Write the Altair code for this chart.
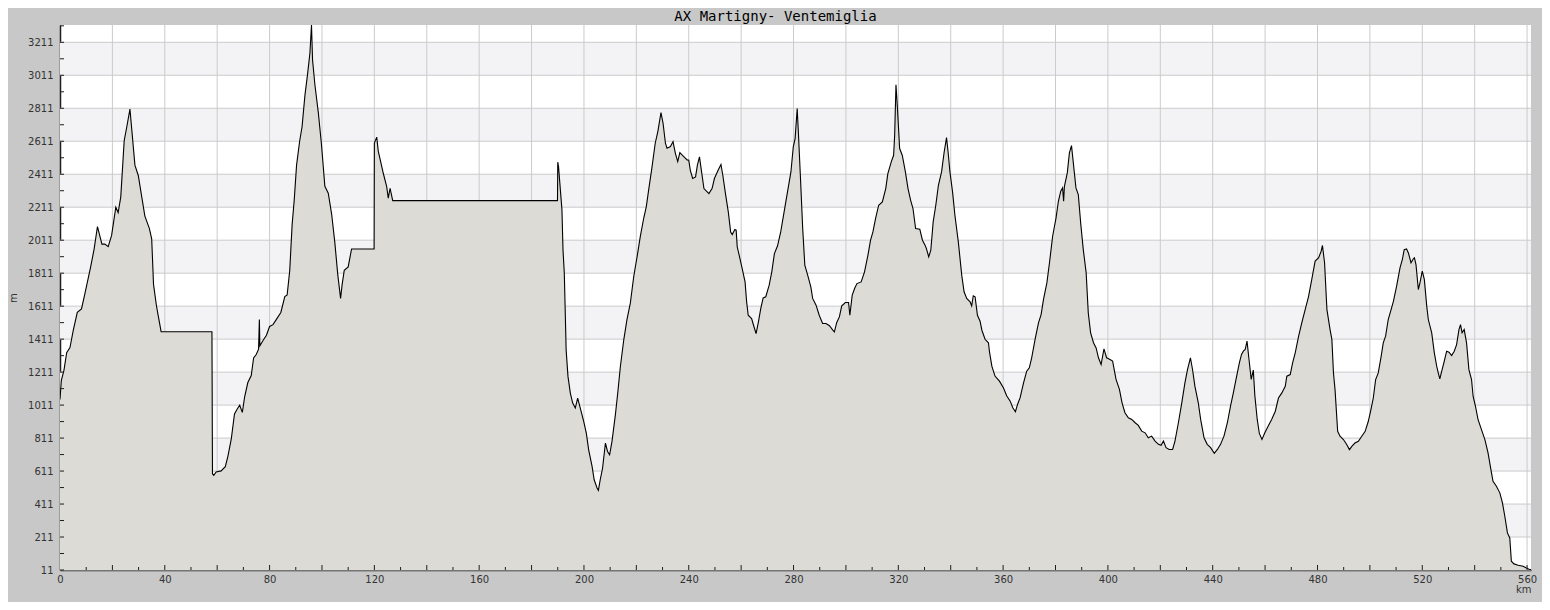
import altair as alt
import pandas as pd

# elevation profile (km, m)
KM = [
    0.0, 0.5, 1.5, 2.55, 3.8, 5.1, 6.6, 8.2, 9.4, 11.7, 13.0, 14.3, 16.0, 17.1, 18.4, 19.7,
    21.3, 22.2, 23.2, 24.5, 25.5, 26.7, 27.3, 28.6, 29.9, 31.2, 32.4, 34.1, 35.0, 35.7, 36.8,
    37.5, 38.6, 58.0, 58.2, 58.7, 59.6, 61.5, 63.1, 64.1, 65.4, 66.6, 67.7, 68.6, 69.6, 70.5,
    71.7, 73.0, 73.9, 74.9, 75.8, 76.1, 76.3, 77.5, 78.8, 80.0, 81.3, 82.6, 84.3, 85.8, 86.7,
    87.7, 88.6, 89.4, 90.3, 91.5, 92.4, 93.5, 94.5, 95.4, 96.0, 96.4, 97.3, 98.6, 99.8, 101.1,
    102.4, 103.7, 104.9, 106.0, 107.1, 107.7, 108.5, 110.0, 111.3, 119.9, 120.0, 120.9, 121.5,
    122.4, 123.4, 124.7, 125.3, 126.0, 127.0, 189.9, 190.0, 190.3, 191.0, 191.6, 192.0, 192.5,
    192.9, 193.2, 193.9, 194.8, 195.7, 196.7, 197.6, 198.6, 199.9, 200.9, 201.8, 203.1, 203.9,
    205.0, 205.5, 206.2, 207.1, 208.2, 209.0, 209.8, 210.7, 212.0, 212.9, 213.9, 215.2, 216.4,
    217.7, 219.0, 220.3, 221.5, 222.8, 223.8, 224.7, 226.0, 227.2, 228.2, 229.4, 230.2, 231.1,
    231.7, 233.0, 234.0, 234.9, 235.8, 236.6, 238.1, 239.4, 240.0, 240.6, 241.5, 242.6, 243.3,
    244.1, 244.9, 245.8, 247.7, 248.9, 249.8, 251.2, 252.3, 253.0, 254.1, 255.1, 256.0, 256.6,
    257.6, 258.1, 258.5, 259.4, 260.4, 261.5, 262.1, 262.7, 264.0, 264.9, 265.7, 266.6, 267.5,
    268.4, 269.4, 270.7, 271.7, 272.7, 273.9, 275.1, 276.4, 277.7, 279.0, 279.9, 280.6, 281.4,
    281.9, 282.6, 283.5, 284.3, 285.4, 286.6, 287.3, 288.6, 289.8, 291.1, 292.4, 293.7, 295.0,
    295.6, 296.5, 297.5, 298.4, 299.8, 301.0, 301.5, 302.4, 303.3, 304.2, 305.8, 307.1, 308.4,
    309.4, 310.3, 311.3, 312.5, 313.9, 315.2, 316.0, 317.3, 318.2, 318.6, 319.1, 319.6, 320.5,
    321.5, 322.7, 323.7, 324.7, 325.6, 326.6, 328.2, 329.2, 330.2, 330.7, 331.6, 332.4, 333.3,
    334.3, 335.3, 336.5, 337.5, 338.4, 339.0, 339.7, 340.7, 341.6, 342.9, 344.2, 345.1, 346.1,
    347.4, 348.0, 348.6, 349.3, 350.2, 351.2, 351.9, 353.1, 354.4, 354.8, 355.7, 356.9, 358.6,
    360.1, 361.4, 362.7, 363.7, 364.7, 365.5, 366.5, 367.8, 369.0, 370.0, 370.9, 372.2, 373.5,
    374.5, 375.4, 376.7, 377.7, 378.9, 380.2, 381.1, 382.0, 382.7, 383.1, 383.4, 384.5, 385.3,
    386.1, 386.8, 387.8, 388.7, 389.6, 390.6, 391.7, 392.5, 393.4, 394.5, 395.5, 396.4, 397.4,
    398.5, 399.5, 400.8, 401.8, 403.1, 404.4, 405.4, 406.5, 407.8, 409.1, 410.4, 411.6, 412.9,
    414.2, 415.4, 416.7, 418.0, 419.3, 420.3, 421.2, 422.2, 423.4, 424.7, 425.6, 426.9, 428.2,
    429.4, 430.4, 431.5, 432.3, 433.2, 434.5, 435.4, 436.7, 437.9, 439.2, 440.6, 441.8, 443.0,
    444.3, 445.6, 446.8, 447.9, 448.9, 450.2, 451.0, 451.7, 452.4, 453.1, 454.0, 454.7, 455.5,
    456.1, 457.0, 457.8, 458.8, 459.9, 461.2, 462.5, 463.9, 465.1, 466.4, 467.7, 468.3, 469.6,
    470.5, 471.5, 472.8, 474.0, 475.3, 476.6, 477.8, 479.1, 480.4, 481.4, 481.9, 482.7, 483.6,
    484.8, 485.5, 486.1, 486.7, 487.7, 488.6, 489.9, 491.2, 492.2, 493.1, 494.3, 495.6, 496.9,
    498.2, 499.4, 500.4, 501.3, 502.2, 503.2, 504.3, 505.1, 506.0, 507.0, 508.1, 509.0, 510.2,
    511.5, 512.4, 513.1, 514.0, 514.7, 515.7, 516.6, 517.0, 517.6, 518.5, 519.1, 520.0, 520.8,
    521.7, 522.3, 523.6, 524.6, 525.5, 526.1, 526.7, 527.4, 528.4, 529.3, 530.2, 531.2, 532.2,
    533.1, 534.0, 534.6, 535.2, 536.0, 536.9, 537.8, 538.8, 539.4, 540.3, 541.3, 542.6, 543.9,
    545.1, 546.2, 547.0, 548.3, 549.6, 550.6, 551.5, 552.5, 553.4, 554.0, 555.0, 556.6, 558.5,
    559.7, 560.8, 561.5,
]
ELEV = [
    1045, 1159, 1222, 1329, 1360, 1467, 1573, 1594, 1679, 1849, 1955, 2094, 1987, 1987, 1972, 2040,
    2211, 2179, 2274, 2614, 2699, 2806, 2699, 2466, 2402, 2274, 2157, 2083, 2019, 1743, 1615,
    1552, 1456, 1456, 595, 585, 606, 612, 638, 702, 808, 957, 989, 1010, 967, 1063,
    1148, 1190, 1297, 1318, 1350, 1530, 1371, 1403, 1435, 1488, 1499, 1531, 1573, 1669, 1679,
    1828, 2104, 2253, 2466, 2614, 2699, 2891, 3018, 3146, 3316, 3104, 2954, 2785, 2593, 2338,
    2296, 2168, 1998, 1807, 1658, 1743, 1828, 1849, 1958, 1958, 2600, 2636, 2550,
    2488, 2417, 2336, 2266, 2326, 2251, 2251, 2484, 2457, 2316, 2195, 1952, 1811,
    1548, 1346, 1185, 1084, 1023, 993, 1053, 993, 912, 841, 740, 639, 558,
    508, 494, 558, 628, 781, 730, 710, 791, 953, 1084, 1245, 1407, 1528,
    1629, 1791, 1912, 2033, 2144, 2215, 2316, 2457, 2599, 2670, 2785, 2720, 2599,
    2569, 2579, 2609, 2538, 2488, 2542, 2518, 2498, 2496, 2435, 2385, 2395, 2466,
    2516, 2425, 2324, 2294, 2324, 2385, 2435, 2470, 2405, 2284, 2183, 2061, 2045,
    2076, 2072, 1971, 1910, 1839, 1758, 1637, 1556, 1536, 1486, 1445, 1516, 1597,
    1661, 1668, 1738, 1819, 1930, 1977, 2061, 2183, 2304, 2425, 2577, 2627, 2809,
    2647, 2405, 2082, 1860, 1799, 1728, 1658, 1617, 1556, 1506, 1506, 1492, 1466,
    1455, 1512, 1546, 1613, 1633, 1633, 1556, 1678, 1718, 1748, 1758, 1819, 1920,
    2011, 2061, 2142, 2223, 2243, 2324, 2415, 2486, 2526, 2647, 2954, 2829, 2567,
    2526, 2425, 2324, 2253, 2203, 2082, 2078, 2011, 1981, 1961, 1910, 1950, 2122,
    2223, 2344, 2425, 2546, 2633, 2546, 2425, 2304, 2162, 2001, 1799, 1698, 1658,
    1637, 1613, 1674, 1668, 1556, 1520, 1465, 1410, 1389, 1334, 1247, 1187, 1156,
    1116, 1066, 1035, 995, 971, 1015, 1056, 1146, 1217, 1237, 1298, 1409, 1510,
    1560, 1651, 1752, 1874, 2035, 2146, 2247, 2308, 2328, 2247, 2338, 2419, 2540,
    2585, 2480, 2328, 2288, 2116, 1954, 1813, 1571, 1449, 1389, 1358, 1298, 1257,
    1352, 1298, 1288, 1278, 1167, 1106, 1025, 965, 934, 924, 904, 888, 853,
    843, 813, 823, 793, 773, 767, 793, 753, 742, 742, 793, 904, 1025,
    1146, 1227, 1298, 1227, 1126, 1025, 924, 813, 773, 753, 718, 742, 773,
    823, 904, 1005, 1086, 1167, 1268, 1318, 1338, 1348, 1399, 1268, 1167, 1223,
    1066, 924, 839, 803, 843, 884, 924, 974, 1054, 1085, 1125, 1186, 1196,
    1267, 1328, 1429, 1510, 1590, 1671, 1772, 1884, 1904, 1944, 1979, 1874, 1590,
    1469, 1408, 1206, 1105, 852, 822, 802, 771, 741, 761, 781, 792, 822,
    852, 913, 984, 1054, 1166, 1206, 1307, 1388, 1429, 1530, 1590, 1641, 1732,
    1843, 1894, 1954, 1958, 1934, 1874, 1898, 1904, 1863, 1712, 1752, 1823, 1772,
    1611, 1530, 1449, 1328, 1247, 1206, 1170, 1216, 1277, 1338, 1332, 1311, 1338,
    1378, 1469, 1499, 1449, 1469, 1388, 1226, 1166, 1065, 1004, 923, 862, 802,
    721, 620, 549, 519, 479, 418, 337, 236, 205, 64, 48, 40, 34,
    23, 16, 13,
]

X_LABELS = [0, 40, 80, 120, 160, 200, 240, 280, 320, 360, 400, 440, 480, 520, 560]
Y_LABELS = [11, 211, 411, 611, 811, 1011, 1211, 1411, 1611, 1811, 2011, 2211,
            2411, 2611, 2811, 3011, 3211]
X_GRID = list(range(20, 561, 20))
X_TICKS_MINOR = list(range(10, 561, 20))
Y_TICKS_MINOR = list(range(111, 3312, 200))
BAND_LO = [211, 611, 1011, 1411, 1811, 2211, 2611, 3011]
BAND_HI = [411, 811, 1211, 1611, 2011, 2411, 2811, 3211]

W, H = 1471, 545
FONT = 'DejaVu Sans'

profile = pd.DataFrame({'km': KM, 'elev': ELEV})
xs = alt.Scale(domain=[0, 561.5], nice=False, zero=False)
ys = alt.Scale(domain=[11, 3316], nice=False, zero=False)

x_axis = alt.Axis(values=X_LABELS, format='d', title='km', grid=False, ticks=False,
                  domainColor='#1e1e1e', domainWidth=1.5,
                  labelFont=FONT, labelFontSize=10, labelColor='#333333',
                  labelPadding=4, labelFlush=False,
                  titleFont=FONT, titleFontSize=10, titleFontWeight='normal',
                  titleColor='#333333', titleAnchor='end', titlePadding=0)
y_axis = alt.Axis(values=Y_LABELS, format='d', title='m', grid=False, ticks=False,
                  domainColor='#1e1e1e', domainWidth=1.5,
                  labelFont=FONT, labelFontSize=10, labelColor='#333333',
                  labelPadding=7, labelFlush=False,
                  titleFont=FONT, titleFontSize=10, titleFontWeight='normal',
                  titleColor='#333333', titleX=-47, titleY=H / 2,
                  titleBaseline='middle')

# striped background bands
bands = alt.Chart(pd.DataFrame({'lo': BAND_LO, 'hi': BAND_HI})).mark_rect(
    color='#f3f2f5').encode(
    y=alt.Y('lo:Q', scale=ys, axis=y_axis), y2='hi:Q',
    x=alt.value(0), x2=alt.value(W))

hgrid = alt.Chart(pd.DataFrame({'v': Y_LABELS})).mark_rule(
    color='#cbcbcb', strokeWidth=1).encode(
    y=alt.Y('v:Q', scale=ys, axis=y_axis), x=alt.value(0), x2=alt.value(W))

vgrid = alt.Chart(pd.DataFrame({'v': X_GRID})).mark_rule(
    color='#cbcbcb', strokeWidth=1).encode(
    x=alt.X('v:Q', scale=xs, axis=x_axis), y=alt.value(0), y2=alt.value(H))

area = alt.Chart(profile).mark_area(color='#dcdbd6', clip=True).encode(
    x=alt.X('km:Q', scale=xs, axis=x_axis),
    y=alt.Y('elev:Q', scale=ys, axis=y_axis),
    y2=alt.datum(11))

line = alt.Chart(profile).mark_line(color='black', strokeWidth=1.1, clip=True).encode(
    x=alt.X('km:Q', scale=xs, axis=x_axis),
    y=alt.Y('elev:Q', scale=ys, axis=y_axis))

# ticks drawn inside the plot
yticks = alt.Chart(pd.DataFrame({'v': Y_LABELS + Y_TICKS_MINOR})).mark_rule(
    color='#1e1e1e').encode(
    y=alt.Y('v:Q', scale=ys, axis=y_axis), x=alt.value(0), x2=alt.value(4))

xticks_major = alt.Chart(pd.DataFrame({'v': X_GRID})).mark_rule(
    color='#1e1e1e').encode(
    x=alt.X('v:Q', scale=xs, axis=x_axis), y=alt.value(H), y2=alt.value(H - 5))

xticks_minor = alt.Chart(pd.DataFrame({'v': X_TICKS_MINOR})).mark_rule(
    color='#1e1e1e').encode(
    x=alt.X('v:Q', scale=xs, axis=x_axis), y=alt.value(H), y2=alt.value(H - 3))

chart = alt.layer(
    bands, hgrid, vgrid, area, line, yticks, xticks_major, xticks_minor
).properties(
    width=W, height=H,
    autosize='none',
    padding={'left': 52, 'top': 17, 'right': 11, 'bottom': 32},
    title=alt.Title('AX Martigny- Ventemiglia', font='DejaVu Sans Mono',
                    fontSize=14, fontWeight='normal', color='black',
                    dx=-20, offset=1),
).configure(
    background='#c8c8c8'
).configure_view(
    fill='white', stroke=None
)

chart.save("out.html", embed_options={"renderer": "svg", "actions": False})
